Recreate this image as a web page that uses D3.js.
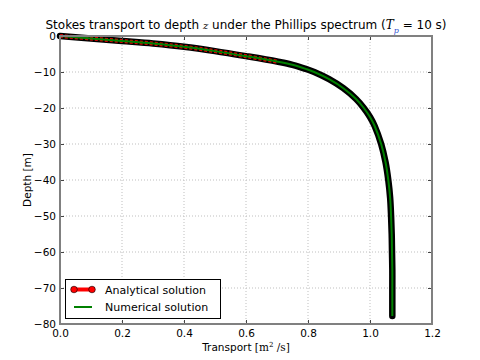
<!DOCTYPE html>
<html><head><meta charset="utf-8">
<script src="https://cdn.jsdelivr.net/npm/d3@7"></script>
<style>
body{margin:0;background:#fff;}
svg{display:block;font-family:"DejaVu Sans",sans-serif;}
</style></head><body>
<svg id="c" width="480" height="360"></svg>
<script>
// Data
const depth = [0, -0.7, -1.4, -2.1, -3.0, -4.2, -5.6, -7.1, -8.0, -9.2, -10, -12, -14.5, -17.5, -20, -22.5, -25, -30, -35, -40, -45, -50, -55, -60, -65, -70, -75, -77.8];
const analytical = [0, 0.1, 0.2, 0.3, 0.4, 0.5, 0.6, 0.70, 0.75, 0.795, 0.82, 0.868, 0.914, 0.955, 0.98, 1.0, 1.015, 1.036, 1.05, 1.059, 1.065, 1.068, 1.070, 1.071, 1.072, 1.072, 1.072, 1.072];
const numerical = [0, 0.1, 0.2, 0.3, 0.4, 0.5, 0.6, 0.70, 0.75, 0.795, 0.82, 0.868, 0.914, 0.955, 0.98, 1.0, 1.015, 1.036, 1.05, 1.059, 1.065, 1.068, 1.070, 1.071, 1.072, 1.072, 1.072, 1.072];
const xTicks = [0.0, 0.2, 0.4, 0.6, 0.8, 1.0, 1.2];
const yTicks = [0, -10, -20, -30, -40, -50, -60, -70, -80];
const seriesNames = ["Analytical solution", "Numerical solution"];

const svg = d3.select("#c");
const L = 60, R = 432, T = 36, B = 324;
const x = d3.scaleLinear().domain([0, 1.2]).range([L, R]);
const y = d3.scaleLinear().domain([-80, 0]).range([B, T]);

// grid
const grid = svg.append("g");
grid.selectAll("line.gx").data(xTicks.slice(1, -1)).join("line")
  .attr("x1", d => x(d)).attr("x2", d => x(d)).attr("y1", T).attr("y2", B)
  .attr("stroke", "#bfbfbf").attr("stroke-width", 1).attr("stroke-dasharray", "1,2");
grid.selectAll("line.gy").data(yTicks.slice(1, -1)).join("line")
  .attr("y1", d => y(d)).attr("y2", d => y(d)).attr("x1", L).attr("x2", R)
  .attr("stroke", "#bfbfbf").attr("stroke-width", 1).attr("stroke-dasharray", "1,2");

const pts = depth.map((d, i) => [analytical[i], d]);
const ptsN = depth.map((d, i) => [numerical[i], d]);
const line = d3.line().x(d => x(d[0])).y(d => y(d[1])).curve(d3.curveCatmullRom.alpha(0.5));

const plot = svg.append("g");
// analytical: dense markers -> black band with red
plot.append("path").attr("d", line(pts)).attr("fill", "none")
  .attr("stroke", "#000").attr("stroke-width", 6.5).attr("stroke-linecap", "round").attr("stroke-linejoin", "round");
plot.append("path").attr("d", line(pts.slice(0, 8))).attr("fill", "none")
  .attr("stroke", "#e00000").attr("stroke-width", 4).attr("stroke-dasharray", "3,2").attr("stroke-linecap", "butt");
// numerical
plot.append("path").attr("d", line(ptsN)).attr("fill", "none")
  .attr("stroke", "#008000").attr("stroke-width", 2);

// axes
const xAxisB = d3.axisBottom(x).tickValues(xTicks).tickFormat(d3.format(".1f")).tickSizeInner(-4).tickSizeOuter(0).tickPadding(6);
const xAxisT = d3.axisTop(x).tickValues(xTicks).tickFormat("").tickSizeInner(-4).tickSizeOuter(0);
const yAxisL = d3.axisLeft(y).tickValues(yTicks).tickFormat(d => d3.format("d")(d).replace("-", "\u2212")).tickSizeInner(-4).tickSizeOuter(0).tickPadding(4);
const yAxisR = d3.axisRight(y).tickValues(yTicks).tickFormat("").tickSizeInner(-4).tickSizeOuter(0);

function styleAxis(g) {
  g.select(".domain").remove();
  g.selectAll(".tick line").attr("stroke", "#444").attr("stroke-width", 1);
  g.selectAll(".tick text").attr("fill", "#000").attr("font-size", 10.5).attr("font-family", "DejaVu Sans");
}
svg.append("g").attr("transform", `translate(0,${B})`).call(xAxisB).call(styleAxis);
svg.append("g").attr("transform", `translate(0,${T})`).call(xAxisT).call(styleAxis);
svg.append("g").attr("transform", `translate(${L},0)`).call(yAxisL).call(styleAxis);
svg.append("g").attr("transform", `translate(${R},0)`).call(yAxisR).call(styleAxis);

// frame
svg.append("rect").attr("x", L).attr("y", T).attr("width", R - L).attr("height", B - T)
  .attr("fill", "none").attr("stroke", "#808080").attr("stroke-width", 2);

// title
const title = svg.append("text").attr("x", 246).attr("y", 28.5).attr("text-anchor", "middle")
  .attr("font-size", 12).attr("fill", "#000");
title.append("tspan").text("Stokes transport to depth ");
title.append("tspan").attr("font-family", "DejaVu Serif").attr("font-style", "italic").attr("font-size", 10).text("z");
title.append("tspan").text(" under the Phillips spectrum (");
title.append("tspan").attr("font-family", "DejaVu Serif").attr("font-style", "italic").text("T");
title.append("tspan").attr("font-family", "DejaVu Serif").attr("font-style", "italic").attr("font-size", 8).attr("dy", 4).attr("fill", "#3050d0").text("p");
title.append("tspan").attr("dy", -4).text(" = 10 s)");

// axis labels
const xl = svg.append("text").attr("x", 246).attr("y", 351).attr("text-anchor", "middle").attr("font-size", 10.5);
xl.append("tspan").text("Transport [");
xl.append("tspan").attr("font-family", "DejaVu Serif").text("m");
xl.append("tspan").attr("font-family", "DejaVu Serif").attr("font-size", 7).attr("dy", -4).text("2");
xl.append("tspan").attr("dy", 4).attr("font-family", "DejaVu Serif").text(" /s");
xl.append("tspan").text("]");
svg.append("text").attr("transform", "translate(31,180) rotate(-90)").attr("text-anchor", "middle")
  .attr("font-size", 10.5).text("Depth [m]");

// legend
const lg = svg.append("g");
lg.append("rect").attr("x", 65.5).attr("y", 279.5).attr("width", 155).attr("height", 39)
  .attr("fill", "#fff").attr("stroke", "#000").attr("stroke-width", 1);
const ly = [289.5, 307];
lg.append("line").attr("x1", 74).attr("x2", 92).attr("y1", ly[0]).attr("y2", ly[0])
  .attr("stroke", "#ff0000").attr("stroke-width", 4);
lg.selectAll("circle").data([74, 92]).join("circle").attr("cx", d => d).attr("cy", ly[0]).attr("r", 3.3)
  .attr("fill", "#ff0000").attr("stroke", "#000").attr("stroke-width", 0.6);
lg.append("line").attr("x1", 74).attr("x2", 92).attr("y1", ly[1]).attr("y2", ly[1])
  .attr("stroke", "#008000").attr("stroke-width", 2);
lg.selectAll("text").data(seriesNames).join("text").attr("x", 105).attr("y", (d, i) => ly[i] + 4)
  .attr("font-size", 11).text(d => d);
</script></body></html>
